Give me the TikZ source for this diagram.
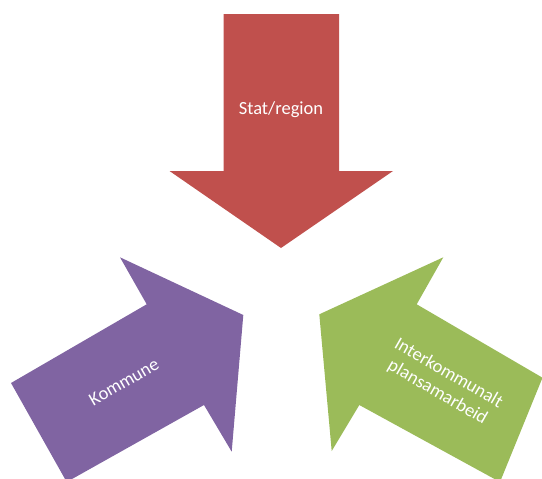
\documentclass[tikz,border=0pt]{standalone}
\usepackage{fontspec}
\setmainfont{Carlito}
\begin{document}
\begin{tikzpicture}[x=1pt,y=-1pt,
  shapefill/.style={fill=#1, draw=none},
  lbl/.style={text=white, font=\fontsize{18.5}{22}\selectfont, align=center, inner sep=0pt}]
\definecolor{cred}{HTML}{C0504D}
\definecolor{cpurple}{HTML}{8064A2}
\definecolor{cgreen}{HTML}{9BBB59}
\useasboundingbox (0,0) rectangle (542,479);
% red arrow (down)
\fill[cred] (223.5,14) -- (339,14) -- (339,171) -- (393,171) -- (281,248) -- (169.5,171) -- (223.5,171) -- cycle;
% purple arrow (up-right)
\fill[cpurple] (11,383) -- (146.7,304.3) -- (120,257.3) -- (243.3,315) -- (231.7,451.7) -- (204,405) -- (66.7,482) -- cycle;
% green arrow (up-left)
\fill[cgreen] (542.5,377.7) -- (416.7,304.3) -- (443.3,257.3) -- (319.3,314.3) -- (331.7,451) -- (359.3,405) -- (500,482) -- cycle;
\node[lbl] (stat) at (281,110) {Stat/region};
\node[lbl, rotate=30] (komm) at (124,382) {Kommune};
\node[lbl, rotate=-30] (inter) at (443,383) {Interkommunalt\\plansamarbeid};
\end{tikzpicture}
\end{document}
